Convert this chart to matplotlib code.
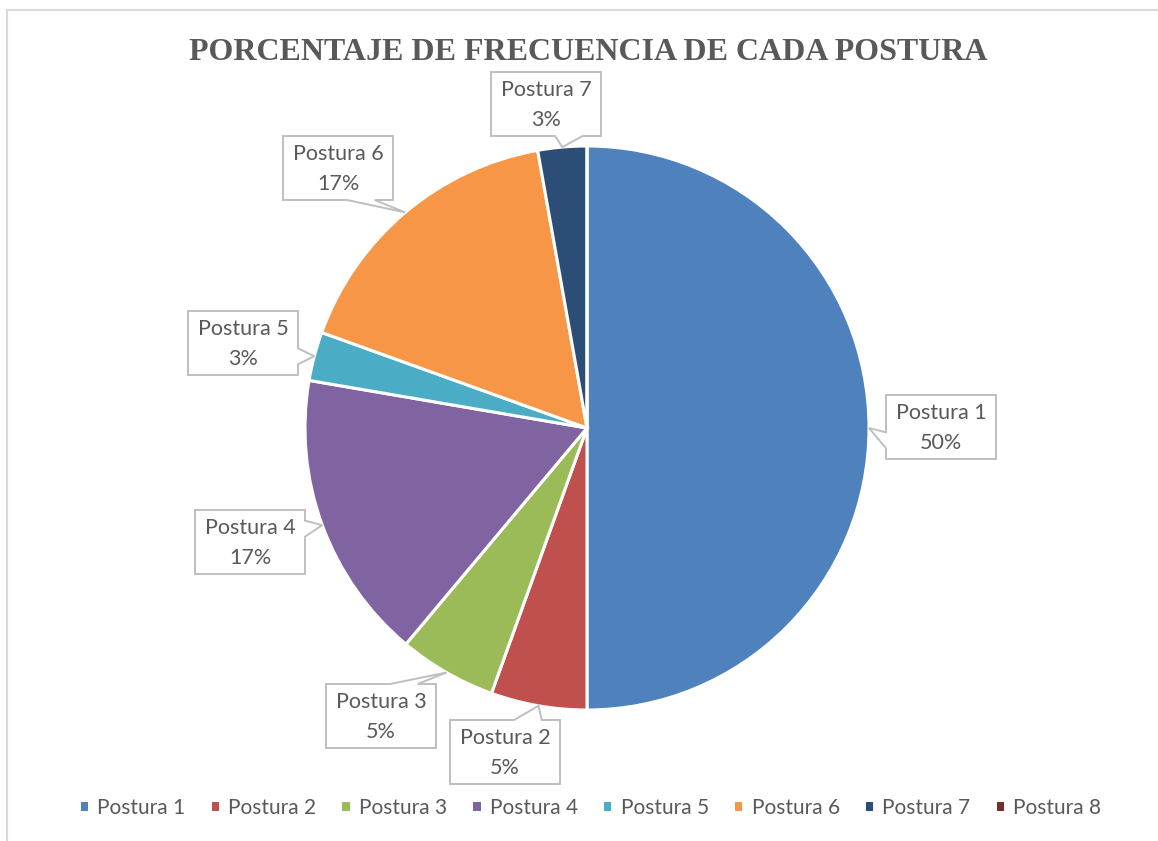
import numpy as np
import matplotlib.pyplot as plt
from matplotlib.patches import Polygon, Rectangle, Patch


# -------------------
# DATA
# -------------------
categories = ["Postura 1", "Postura 2", "Postura 3", "Postura 4",
              "Postura 5", "Postura 6", "Postura 7", "Postura 8"]
percent = [50.0, 5.5, 5.6, 16.6, 2.8, 16.7, 2.8, 0.0]
percent_labels = ["50%", "5%", "5%", "17%", "3%", "17%", "3%", "0%"]
colors = ["#4F81BD", "#C0504D", "#9BBB59", "#8064A2",
          "#4BACC6", "#F79646", "#2C4D75", "#772C2A"]
title = "PORCENTAJE DE FRECUENCIA DE CADA POSTURA"

# label box centres (image pixels, y down)
box_centres = [(941, 427), (505, 752), (381, 716), (250, 542),
               (243, 343), (338, 168), (546, 104), None]

W, H = 1158, 841
BOX_W, BOX_H = 110, 64
TEXT = "#595959"
EDGE = "#BFBFBF"
FONT = "Lato"


def fy(y):
    return H - y


# -------------------
# FIGURE
# -------------------
fig = plt.figure(figsize=(W / 100, H / 100), dpi=100)
ax = fig.add_axes([0, 0, 1, 1])

# chart border
ax.add_patch(Rectangle((6.5, fy(900)), 1200, 890, fill=False,
                       ec="#D9D9D9", lw=1.5))

# pie
cx, cy, r = 587, fy(428), 282
wedges, _ = ax.pie(percent, colors=colors, startangle=90, counterclock=False,
                   center=(cx, cy), radius=r, frame=True,
                   wedgeprops=dict(edgecolor="white", linewidth=2.2))
ax.set_xlim(0, W)
ax.set_ylim(0, H)
ax.set_aspect("equal")
ax.axis("off")


# -------------------
# CALLOUT LABELS
# -------------------
def callout(ax, centre, tip):
    hc, vc = centre
    l, rr = hc - BOX_W / 2, hc + BOX_W / 2
    t, b = vc - BOX_H / 2, vc + BOX_H / 2
    xp, yp = tip
    dx, dy = xp - hc, yp - vc
    dq = dx * BOX_H / BOX_W
    dz = abs(dy) - abs(dq)
    x1 = BOX_W * (7 if dx > 0 else 2) / 12
    x2 = BOX_W * (10 if dx > 0 else 5) / 12
    y1 = BOX_H * (7 if dy > 0 else 2) / 12
    y2 = BOX_H * (10 if dy > 0 else 5) / 12
    pts = [(l, t)]
    if dz > 0 and dy < 0:
        pts += [(l + x1, t), tip, (l + x2, t)]
    pts += [(rr, t)]
    if dz <= 0 and dx > 0:
        pts += [(rr, t + y1), tip, (rr, t + y2)]
    pts += [(rr, b)]
    if dz > 0 and dy > 0:
        pts += [(l + x2, b), tip, (l + x1, b)]
    pts += [(l, b)]
    if dz <= 0 and dx < 0:
        pts += [(l, t + y2), tip, (l, t + y1)]
    pts = [(x, fy(y)) for x, y in pts]
    ax.add_patch(Polygon(pts, closed=True, fc="white", ec=EDGE, lw=1.4,
                         joinstyle="miter", zorder=3))


for w, cat, lab, centre in zip(wedges, categories, percent_labels, box_centres):
    if centre is None:
        continue
    mid = np.deg2rad((w.theta1 + w.theta2) / 2)
    tip = (cx + r * np.cos(mid), fy(cy + r * np.sin(mid)))
    callout(ax, centre, tip)
    ax.text(centre[0], fy(centre[1]) - 1, f"{cat}\n{lab}", ha="center",
            va="center", fontsize=15.5, family=FONT, color=TEXT,
            linespacing=1.65, zorder=4)

# title
ax.text(588, fy(60), title, ha="center", va="baseline", fontsize=23,
        family="Liberation Serif", fontweight="bold", color=TEXT)

# legend
handles = [Patch(facecolor=c, edgecolor="none") for c in colors]
leg = fig.legend(handles, categories, loc="center", ncol=8,
                 bbox_to_anchor=(591 / W, 1 - 808 / H), frameon=False,
                 prop=dict(family=FONT, size=15), handlelength=0.35,
                 handleheight=0.35, handletextpad=0.45, columnspacing=1.25)
for t in leg.get_texts():
    t.set_color(TEXT)

fig.savefig("out.png", dpi=100)
